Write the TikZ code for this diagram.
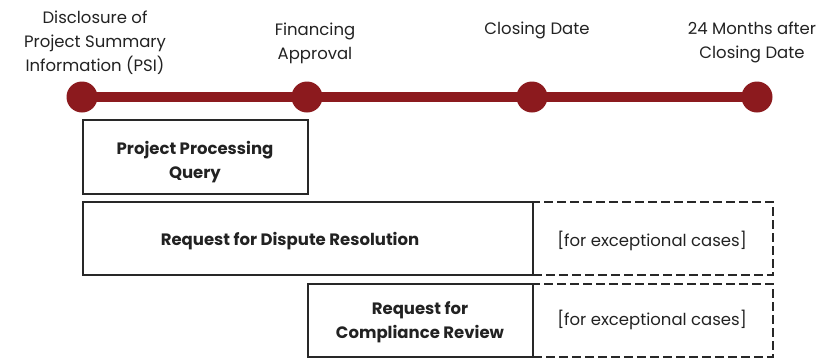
\documentclass[tikz,border=0pt]{standalone}
\usepackage{fontspec}
\setmainfont{Poppins}
\usetikzlibrary{backgrounds}
\definecolor{tl}{RGB}{140,26,30}
\definecolor{txt}{RGB}{34,34,34}
\definecolor{edge}{RGB}{40,40,40}
\tikzset{
  milestone/.style={circle,fill=tl,minimum size=31pt,inner sep=0pt},
  lbl/.style={text=txt,align=center,font=\fontsize{16.5}{24}\selectfont,inner sep=0pt,anchor=base},
  boxtext/.style={text=txt,align=center,font=\fontsize{16.5}{24}\selectfont\bfseries,inner sep=0pt,anchor=base},
  solidbox/.style={draw=edge,line width=1.6pt,inner sep=0pt,anchor=north west},
  dashbox/.style={draw=edge,line width=1.6pt,dash pattern=on 9pt off 4pt,inner sep=0pt,anchor=north west},
  note/.style={text=txt,font=\fontsize{16.5}{20}\selectfont,inner sep=0pt,anchor=base},
}
\begin{document}
\begin{tikzpicture}[x=1pt,y=-1pt]
\useasboundingbox (0,0) rectangle (839,357);
% milestones
\node[milestone] (m1) at (82,97) {};
\node[milestone] (m2) at (307,97) {};
\node[milestone] (m3) at (532,97) {};
\node[milestone] (m4) at (757,97) {};
\begin{scope}[on background layer]
\draw[tl,line width=10pt] (m1.center) -- (m4.center);
\end{scope}
% milestone labels
\node[lbl] (l1) at (95,71) {Disclosure of\\Project Summary\\Information (PSI)};
\node[lbl] (l2) at (315,59) {Financing\\Approval};
\node[lbl] (l3) at (537,34) {Closing Date};
\node[lbl] (l4) at (752,58) {24 Months after\\Closing Date};
% boxes
\node[solidbox,minimum width=225pt,minimum height=74pt] (ppq) at (82,119) {};
\node[boxtext] at (195,178) {Project Processing\\Query};
\node[solidbox,minimum width=450pt,minimum height=73pt] (rdr) at (82,201) {};
\node[boxtext] at (290,245) {Request for Dispute Resolution};
\node[dashbox,minimum width=240pt,minimum height=73pt] (rdrx) at (532,201) {};
\node[note] at (652,246) {[for exceptional cases]};
\node[solidbox,minimum width=225pt,minimum height=73pt] (rcr) at (307,283) {};
\node[boxtext] at (420,338) {Request for\\Compliance Review};
\node[dashbox,minimum width=240pt,minimum height=73pt] (rcrx) at (532,283) {};
\node[note] at (652,325) {[for exceptional cases]};
\end{tikzpicture}
\end{document}
